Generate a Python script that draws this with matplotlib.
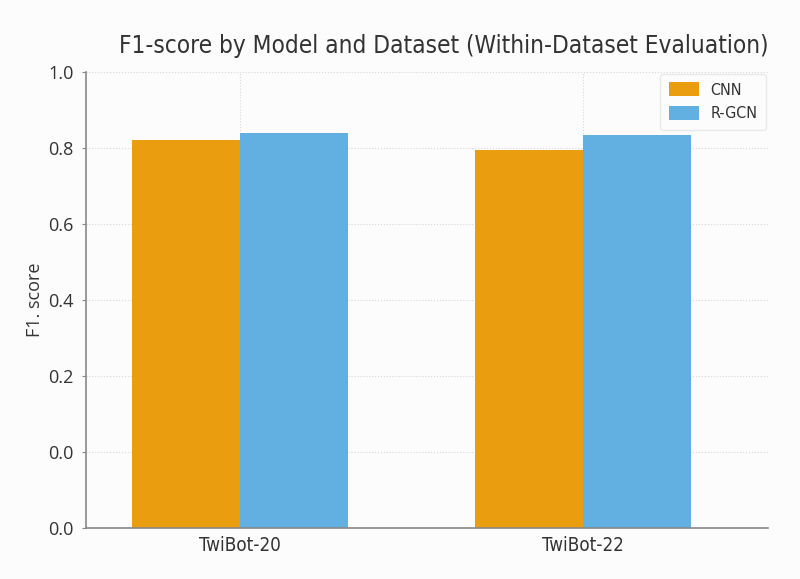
import numpy as np
import matplotlib
matplotlib.use("Agg")
import matplotlib.pyplot as plt

# ----------------------------- DATA -----------------------------
datasets   = ["TwiBot-20", "TwiBot-22"]
models     = ["CNN", "R-GCN"]
cnn_f1     = [0.82, 0.795]
rgcn_f1    = [0.84, 0.835]
ytick_vals = [-0.2, 0.0, 0.2, 0.4, 0.6, 0.8, 1.0]
ytick_txt  = ["0.0", "0.0", "0.2", "0.4", "0.6", "0.8", "1.0"]
# ----------------------------------------------------------------

COLORS = ["#E99D0F", "#62AFE1"]
BASE   = -0.2      # bars are drawn up from the bottom of the axis
WIDTH  = 0.315

fig = plt.figure(figsize=(8, 5.79), dpi=100, facecolor="#fcfcfc")
ax = fig.add_axes([0.1075, 0.088, 0.8525, 0.7876], facecolor="#fcfcfc")

x = np.arange(len(datasets))
for i, (name, vals) in enumerate(zip(models, [cnn_f1, rgcn_f1])):
    heights = [v - BASE for v in vals]
    ax.bar(x + (i - 0.5) * WIDTH, heights, WIDTH, bottom=BASE,
           color=COLORS[i], label=name)

ax.set_xlim(-0.449, 1.539)
ax.set_ylim(BASE, 1.0)
ax.set_xticks(x)
ax.set_xticklabels(datasets, fontsize=13.5, family="DejaVu Sans",
                   fontstretch="condensed", color="#333333")
ax.set_yticks(ytick_vals)
ax.set_yticklabels(ytick_txt, fontsize=13, family="Open Sans", color="#333333")
ax.tick_params(axis="x", length=0, pad=6)
ax.tick_params(axis="y", length=3, color="#888888", pad=6)

ax.grid(True, linestyle=":", color="#d8d8d8", linewidth=0.8)
ax.set_axisbelow(True)
for side in ["top", "right"]:
    ax.spines[side].set_visible(False)
for side in ["left", "bottom"]:
    ax.spines[side].set_color("#888888")
    ax.spines[side].set_linewidth(1.2)

ax.set_ylabel("F1. score", fontsize=13, family="Open Sans", color="#333333",
              labelpad=3)
ax.set_title("F1-score by Model and Dataset (Within-Dataset Evaluation)",
             fontsize=17.5, family="DejaVu Sans", fontstretch="condensed",
             color="#333333", x=0.525, pad=14)

leg = ax.legend(loc="upper right",
                prop={"family": "DejaVu Sans", "stretch": "condensed", "size": 11.5},
                frameon=True, handlelength=1.9, handleheight=0.9,
                borderpad=0.55, labelspacing=0.55, handletextpad=0.7,
                borderaxespad=0.1)
leg.get_frame().set_edgecolor("#e4e4e4")
leg.get_frame().set_facecolor("#fcfcfc")
for t in leg.get_texts():
    t.set_color("#333333")

fig.savefig("out.png", dpi=100, facecolor=fig.get_facecolor())
